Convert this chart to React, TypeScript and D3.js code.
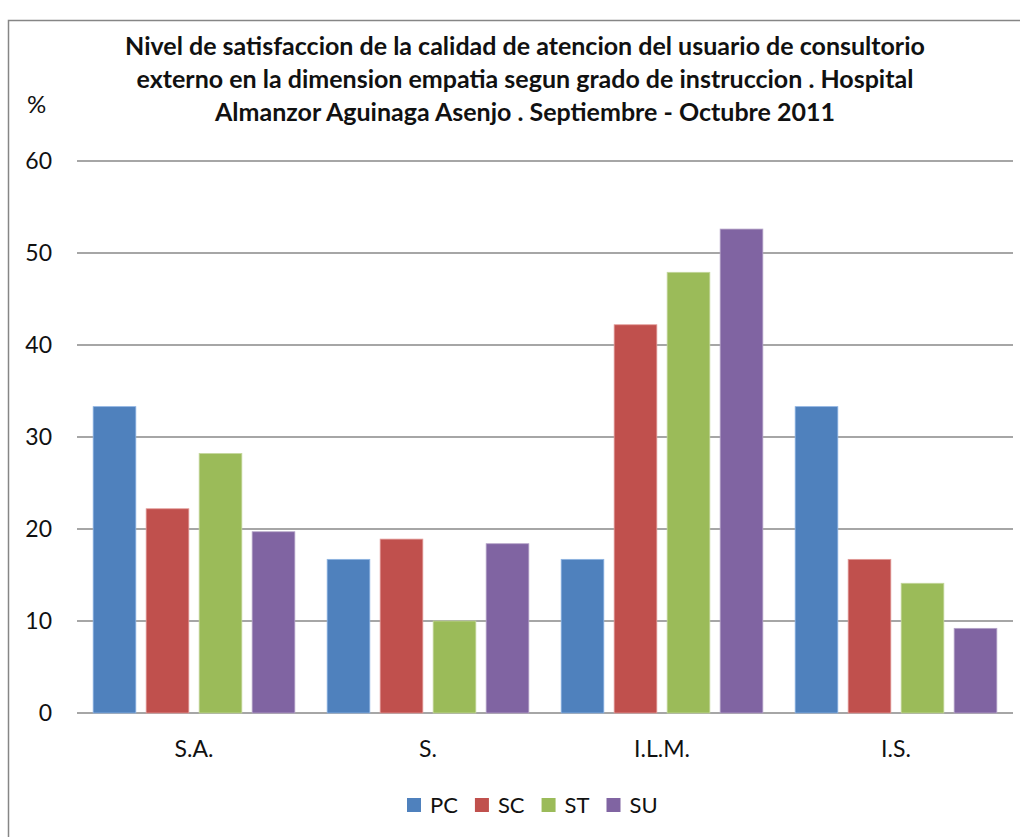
import React, { useRef, useEffect } from 'react';
import * as d3 from 'd3';

// categories = grado de instruccion
const categories = ['S.A.', 'S.', 'I.L.M.', 'I.S.'];
const seriesNames = ['PC', 'SC', 'ST', 'SU'];
const seriesColors = ['#4F81BD', '#C0504D', '#9BBB59', '#8064A2'];
const borderColors = ['#8EB4E3', '#E29A98', '#C3D69B', '#B3A2C7'];

// values in %, one array per series
const pcValues = [33.3, 16.7, 16.7, 33.3];
const scValues = [22.2, 18.9, 42.2, 16.7];
const stValues = [28.2, 10.0, 47.9, 14.1];
const suValues = [19.7, 18.4, 52.6, 9.2];

const yTicks = [0, 10, 20, 30, 40, 50, 60];

const titleLines = [
  'Nivel de satisfaccion de la calidad de atencion del usuario de consultorio',
  'externo en la dimension empatia segun grado de instruccion . Hospital',
  'Almanzor Aguinaga Asenjo . Septiembre - Octubre 2011',
];

const FONT = 'Lato, "Open Sans", sans-serif';

export default function App() {
  const svgRef = useRef<SVGSVGElement>(null);
  const width = 1027;
  const height = 837;
  const margin = { top: 161, right: 14, bottom: 124, left: 77 };

  useEffect(() => {
    const svg = d3.select(svgRef.current);
    svg.selectAll('*').remove();

    const allSeries = [pcValues, scValues, stValues, suValues];

    // chart frame (only top and left edges fall inside the picture)
    svg.append('path')
      .attr('d', `M8.5,${height} V20.5 H1020`)
      .attr('fill', 'none')
      .attr('stroke', '#868686')
      .attr('stroke-width', 1.5);

    const x0 = d3.scaleBand()
      .domain(categories)
      .range([margin.left, width - margin.right]);

    const x1 = d3.scaleBand()
      .domain(seriesNames)
      .range([0, x0.bandwidth()])
      .paddingInner(0.195)
      .paddingOuter(0.305);

    const y = d3.scaleLinear()
      .domain([0, 60])
      .range([height - margin.bottom, margin.top]);

    // gridlines
    svg.append('g')
      .selectAll('line')
      .data(yTicks)
      .join('line')
      .attr('x1', margin.left)
      .attr('x2', width - margin.right)
      .attr('y1', d => y(d))
      .attr('y2', d => y(d))
      .attr('stroke', '#888888')
      .attr('stroke-width', 1.5);

    // y tick labels
    svg.append('g')
      .selectAll('text')
      .data(yTicks)
      .join('text')
      .attr('x', 52)
      .attr('y', d => y(d))
      .attr('dy', '0.36em')
      .attr('text-anchor', 'end')
      .attr('font-size', 23)
      .attr('font-family', FONT)
      .attr('fill', '#111')
      .text(d => d);

    // bars
    seriesNames.forEach((name, i) => {
      svg.append('g')
        .selectAll('rect')
        .data(allSeries[i])
        .join('rect')
        .attr('x', (d, j) => x0(categories[j])! + x1(name)!)
        .attr('y', d => y(d))
        .attr('width', x1.bandwidth())
        .attr('height', d => y(0) - y(d))
        .attr('fill', seriesColors[i])
        .attr('stroke', borderColors[i])
        .attr('stroke-width', 0.8);
    });

    // category labels
    svg.append('g')
      .selectAll('text')
      .data(categories)
      .join('text')
      .attr('x', d => x0(d)! + x0.bandwidth() / 2)
      .attr('y', y(0) + 44)
      .attr('text-anchor', 'middle')
      .attr('font-size', 23)
      .attr('font-family', FONT)
      .attr('fill', '#111')
      .text(d => d);

    // title
    svg.append('g')
      .selectAll('text')
      .data(titleLines)
      .join('text')
      .attr('x', 525)
      .attr('y', (d, i) => 55 + i * 33)
      .attr('text-anchor', 'middle')
      .attr('font-size', 25)
      .attr('font-weight', 'bold')
      .attr('font-family', FONT)
      .attr('fill', '#111')
      .text(d => d);

    // y axis unit
    svg.append('text')
      .attr('x', 27)
      .attr('y', 113)
      .attr('font-size', 24)
      .attr('font-family', FONT)
      .attr('fill', '#111')
      .text('%');

    // legend
    const legend = svg.append('g').attr('transform', 'translate(407,805)');
    let cx = 0;
    seriesNames.forEach((name, i) => {
      legend.append('rect')
        .attr('x', cx)
        .attr('y', -7)
        .attr('width', 14)
        .attr('height', 14)
        .attr('fill', seriesColors[i]);
      const t = legend.append('text')
        .attr('x', cx + 23)
        .attr('y', 0)
        .attr('dy', '0.35em')
        .attr('font-size', 22)
        .attr('font-family', FONT)
        .attr('fill', '#111')
        .text(name);
      const w = (t.node() as SVGTextElement).getComputedTextLength();
      cx += 23 + w + 17;
    });
  }, []);

  return (
    <svg
      ref={svgRef}
      width={width}
      height={height}
      style={{ position: 'absolute', left: 0, top: 0, background: '#fff' }}
    />
  );
}
